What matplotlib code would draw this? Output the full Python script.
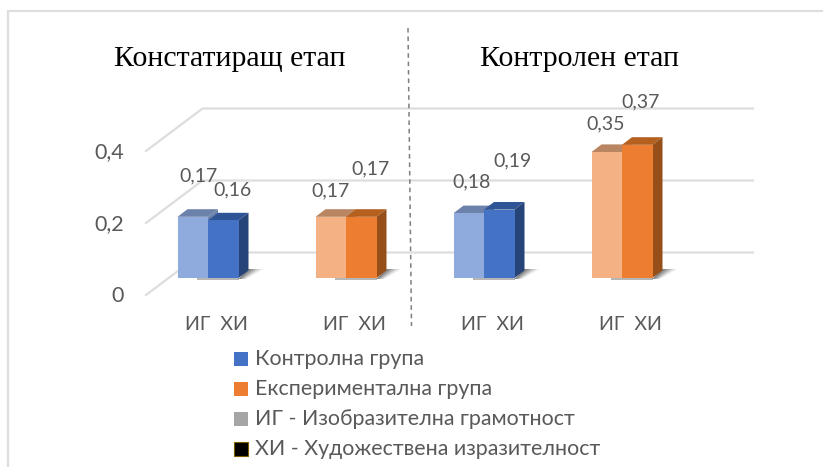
import matplotlib
matplotlib.use("Agg")
import matplotlib.pyplot as plt
from matplotlib.patches import Polygon, Rectangle
from matplotlib.lines import Line2D

W, H = 823, 467
groups = ["ИГ  ХИ", "ИГ  ХИ", "ИГ  ХИ", "ИГ  ХИ"]
series_ig = [0.17, 0.17, 0.18, 0.35]
series_xi = [0.16, 0.17, 0.19, 0.37]
label_ig = ["0,17", "0,17", "0,18", "0,35"]
label_xi = ["0,16", "0,17", "0,19", "0,37"]
y_ticks = [0.0, 0.2, 0.4]
y_tick_labels = ["0", "0,2", "0,4"]
stage_titles = ["Констатиращ етап", "Контролен етап"]
legend_labels = ["Контролна група", "Експериментална група",
                 "ИГ - Изобразителна грамотност", "ХИ - Художествена изразителност"]

# palette per group: (light front, light top, front, top, side)
BLUE = ("#8FAADC", "#6D82AB", "#4472C4", "#2F5597", "#264478")
ORANGE = ("#F4B183", "#B98562", "#ED7D31", "#B4601F", "#964F19")
group_colors = [BLUE, ORANGE, BLUE, ORANGE]

GROUP_PX = 138.0
VALUE_PX = 360.0
X0_PX, Y0_PX = 208.0, 278.0
fx = lambda px: (px - X0_PX) / GROUP_PX          # pixel position -> category units
dx = lambda px: px / GROUP_PX                     # pixel offset -> category units
fy = lambda px: px / VALUE_PX                     # pixel offset -> value units

plt.rcParams['font.family'] = ['Lato', 'Noto Sans', 'DejaVu Sans']
fig = plt.figure(figsize=(W / 100, H / 100), dpi=100)
ax = fig.add_axes([0, 0, 1, 1])
ax.set_xlim(fx(0), fx(W))
ax.set_ylim(fy(Y0_PX - H), fy(Y0_PX))
ax.axis("off")

GRID = "#DDDDDD"
TXT = "#595959"
BW = dx(30.5)
DX, DY = dx(10), fy(7.6)
WALL_DX, WALL_DY = dx(56.5), fy(42.5)
FRONT_X = fx(146)
FRONT_Y0 = fy(-17)
BACK_END = fx(753)

# frame: only the left and top edges are inside the crop
ax.plot([fx(8), fx(8), fx(W)],
        [fy(Y0_PX - H), fy(Y0_PX - 11), fy(Y0_PX - 11)],
        color="#DEDEDE", lw=1.6, zorder=1, clip_on=False, solid_joinstyle="miter")

# gridlines
for t in y_ticks:
    y0 = FRONT_Y0 + t
    ax.plot([FRONT_X, FRONT_X + WALL_DX, BACK_END],
            [y0, y0 + WALL_DY, y0 + WALL_DY], color=GRID, lw=1.6, zorder=2,
            solid_joinstyle="miter")

# y tick labels
for t, s in zip(y_ticks, y_tick_labels):
    ax.text(fx(124), FRONT_Y0 + t - fy(1), s, ha="right", va="center", fontsize=15.5, color=TXT, zorder=6)

# bars
for i, (a, b) in enumerate(zip(series_ig, series_xi)):
    c = group_colors[i]
    # soft shadow: a thin strip under the bars and a fading wedge right of the side face
    ax.add_patch(Polygon([(i - dx(11), -fy(2.2)), (i + BW, -fy(2.2)), (i + BW, 0), (i - dx(11), 0)],
                         closed=True, fc="#7A7A7A", ec="none", alpha=0.55, zorder=3))
    for k, alpha in enumerate([0.10, 0.16, 0.22, 0.30, 0.40]):
        ext = dx(15 - 3 * k)
        ax.add_patch(Polygon([(i + BW, -fy(1)), (i + BW + DX, fy(9)),
                              (i + BW + DX + ext, fy(9)), (i + BW + ext * 0.5, -fy(1))],
                             closed=True, fc="#5A5A5A", ec="none", alpha=alpha, zorder=3))
    # left (light) bar: top and side faces, then the front
    ax.add_patch(Polygon([(i - BW, a), (i - BW + DX, a + DY), (i + DX, a + DY), (i, a)],
                         closed=True, fc=c[1], ec="none", zorder=4))
    ax.add_patch(Polygon([(i, 0), (i + DX, DY), (i + DX, a + DY), (i, a)],
                         closed=True, fc=c[1], ec="none", zorder=4))
    ax.bar(i - BW / 2, a, width=BW, color=c[0], zorder=4.1)
    # right (full colour) bar
    ax.add_patch(Polygon([(i, b), (i + DX, b + DY), (i + BW + DX, b + DY), (i + BW, b)],
                         closed=True, fc=c[3], ec="none", zorder=4.2))
    ax.add_patch(Polygon([(i + BW, 0), (i + BW + DX, DY), (i + BW + DX, b + DY), (i + BW, b)],
                         closed=True, fc=c[4], ec="none", zorder=4.2))
    ax.bar(i + BW / 2, b, width=BW, color=c[2], zorder=4.3)
    # category label
    ax.text(i + dx(8), -fy(47), groups[i], ha="center", va="center", fontsize=14, color=TXT, zorder=6)

# value labels, offset from the bar tops in pixels
ig_off = [(-10, 41), (-15, 26), (-12, 31), (-16, 28)]
xi_off = [(25, 31), (24, 48), (28, 49), (19, 43)]
for i in range(4):
    ax.text(i + dx(ig_off[i][0]), series_ig[i] + fy(ig_off[i][1]),
            label_ig[i], ha="center", va="center", fontsize=14, color=TXT, zorder=6)
    ax.text(i + dx(xi_off[i][0]), series_xi[i] + fy(xi_off[i][1]),
            label_xi[i], ha="center", va="center", fontsize=14, color=TXT, zorder=6)

# divider
ax.add_line(Line2D([fx(408), fx(411.5)], [fy(Y0_PX - 28), fy(Y0_PX - 326)], color="#7F7F7F",
                   lw=1.1, ls=(0, (3, 2.5)), zorder=5))

# stage headings
ax.text(fx(229.6), fy(Y0_PX - 59), stage_titles[0], ha="center", va="center", fontsize=21.5,
        family=["Liberation Serif"], color="black", zorder=6)
ax.text(fx(579), fy(Y0_PX - 59), stage_titles[1], ha="center", va="center", fontsize=21.5,
        family=["Liberation Serif"], color="black", zorder=6)

# legend
leg_cols = ["#4472C4", "#ED7D31", "#A5A5A5", "#000000"]
leg_edges = ["none", "none", "none", "#7F6000"]
for k, (s, c, e) in enumerate(zip(legend_labels, leg_cols, leg_edges)):
    py = 359 + k * 30
    ax.add_patch(Rectangle((fx(234), fy(Y0_PX - py - 7)), dx(14), fy(14), fc=c, ec=e, lw=0.8, zorder=6))
    ax.text(fx(255), fy(Y0_PX - py), s, ha="left", va="center", fontsize=15.4, color=TXT, zorder=6)

fig.savefig("out.png", dpi=100)
